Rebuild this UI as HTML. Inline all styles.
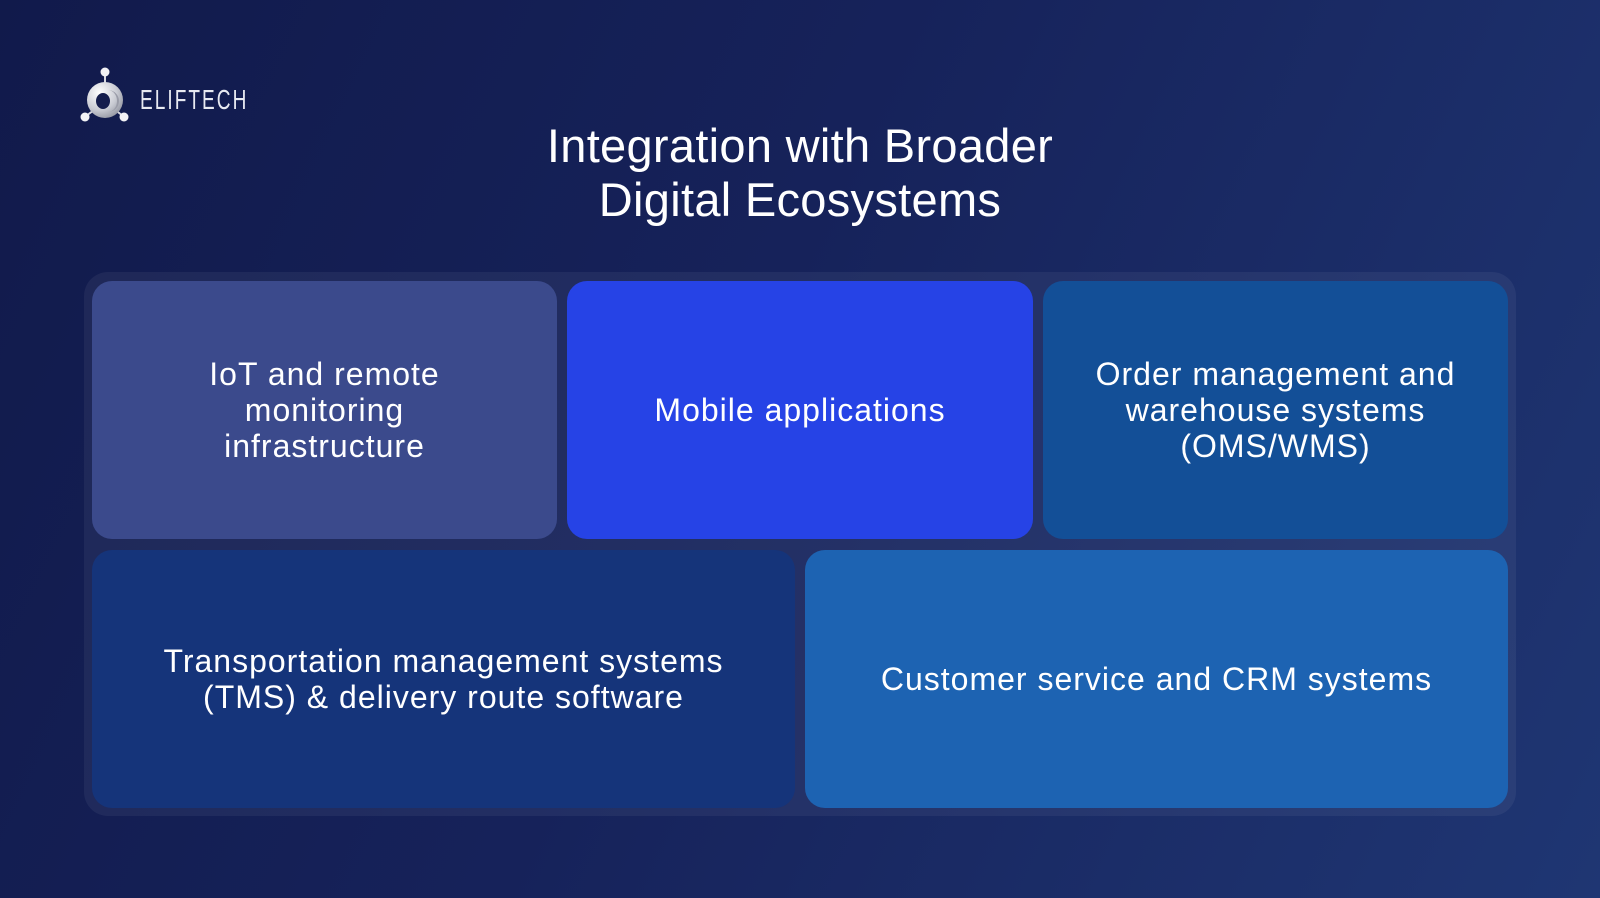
<!DOCTYPE html>
<html><head><meta charset="utf-8"><style>
html,body{margin:0;padding:0}
body{width:1600px;height:898px;overflow:hidden;position:relative;
background:linear-gradient(115deg,#111a4b 0%,#16225a 45%,#1f3673 100%);
font-family:"Liberation Sans",sans-serif;color:#fff}
.title{position:absolute;left:0;width:1600px;top:119px;text-align:center;font-size:47px;line-height:54px;letter-spacing:0.3px}
.wrap{position:absolute;left:84px;top:272px;width:1432px;height:544px;border-radius:24px;background:rgba(255,255,255,0.055)}
.c{position:absolute;border-radius:20px;display:flex;align-items:center;justify-content:center;text-align:center;font-size:32px;line-height:36px;letter-spacing:1px}
.logo{position:absolute;left:140px;top:84px;font-size:28px;letter-spacing:3px;transform:scaleX(0.68);transform-origin:0 0;color:#e8eaf2}
</style></head><body>
<svg style="position:absolute;left:79px;top:66px" width="54" height="60" viewBox="0 0 54 60">
<defs><radialGradient id="g" cx="0.35" cy="0.3" r="0.8"><stop offset="0" stop-color="#ffffff"/><stop offset="0.6" stop-color="#c9cbd3"/><stop offset="1" stop-color="#8d909c"/></radialGradient></defs>
<line x1="26" y1="7" x2="26" y2="22" stroke="#d8d9e0" stroke-width="2"/>
<line x1="26" y1="36" x2="7" y2="50" stroke="#d8d9e0" stroke-width="2"/>
<line x1="26" y1="36" x2="44" y2="50" stroke="#d8d9e0" stroke-width="2"/>
<circle cx="26" cy="6" r="4.5" fill="#f2f2f5"/>
<circle cx="6" cy="51" r="4.5" fill="#f2f2f5"/>
<circle cx="45" cy="51" r="4.5" fill="#f2f2f5"/>
<circle cx="26" cy="34" r="18" fill="url(#g)"/>
<ellipse cx="24" cy="35" rx="7" ry="8" fill="#151d4d"/>
<path d="M29 24 a11 11 0 0 1 0 22 a9 11 0 0 0 0 -22z" fill="#9a9ca8"/>
</svg>
<div class="logo">ELIFTECH</div>
<div class="title">Integration with Broader<br>Digital Ecosystems</div>
<div class="wrap"></div>
<div class="c" style="left:92px;top:281px;width:465px;height:258px;background:#3b4a8c">IoT and remote<br>monitoring<br>infrastructure</div>
<div class="c" style="left:567px;top:281px;width:466px;height:258px;background:#2643e6">Mobile applications</div>
<div class="c" style="left:1043px;top:281px;width:465px;height:258px;background:#134f97">Order management and<br>warehouse systems<br>(OMS/WMS)</div>
<div class="c" style="left:92px;top:550px;width:703px;height:258px;background:#15347a">Transportation management systems<br>(TMS) &amp; delivery route software</div>
<div class="c" style="left:805px;top:550px;width:703px;height:258px;background:#1d63b2">Customer service and CRM systems</div>
</body></html>
